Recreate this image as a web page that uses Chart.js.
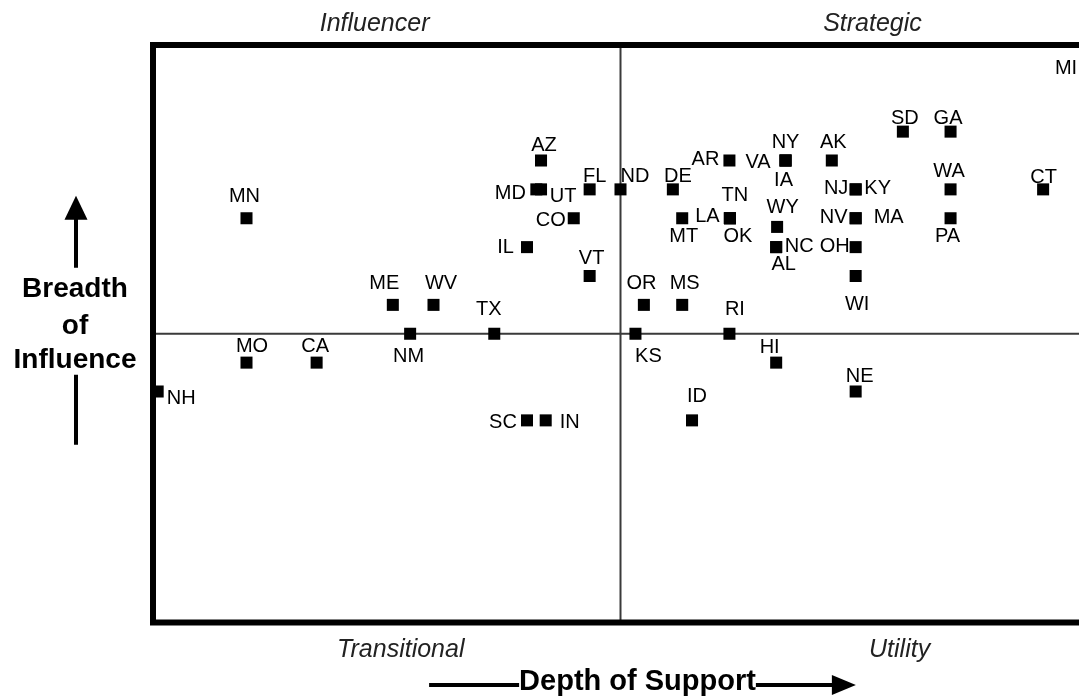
<!DOCTYPE html>
<html>
<head>
<meta charset="utf-8">
<script src="https://cdn.jsdelivr.net/npm/chart.js@4/dist/chart.umd.min.js"></script>
<style>
  html, body { margin: 0; padding: 0; background: #fff; overflow: hidden; }
  #wrap { width: 1100px; height: 696px; }
</style>
</head>
<body>
<div id="wrap"><canvas id="quad" width="1100" height="696"></canvas></div>
<script>
const states  = ['NH', 'MN', 'MO', 'CA', 'ME', 'NM', 'WV', 'TX', 'IL', 'SC', 'MD', 'AZ', 'UT', 'IN', 'CO', 'FL', 'VT',
                 'ND', 'KS', 'OR', 'DE', 'MT', 'MS', 'ID', 'AR', 'TN', 'LA', 'OK', 'RI', 'WY', 'NC', 'AL', 'HI',
                 'NY', 'VA', 'IA', 'AK', 'NJ', 'KY', 'NV', 'MA', 'OH', 'WI', 'NE', 'SD', 'GA', 'WA', 'PA', 'CT', 'MI'];
const depth   = [-9.9, -8, -8, -6.5, -4.87, -4.5, -4, -2.7, -2, -2, -1.8, -1.7, -1.7, -1.6, -1, -0.66, -0.66,
                 0, 0.32, 0.5, 1.12, 1.32, 1.32, 1.53, 2.33, 2.34, 2.34, 2.34, 2.33, 3.35, 3.33, 3.33, 3.33,
                 3.53, 3.53, 3.53, 4.52, 5.03, 5.03, 5.03, 5.03, 5.03, 5.03, 5.03, 6.04, 7.06, 7.06, 7.06, 9.04, 10];
const breadth = [-2, 4, -1, -1, 1, 0, 1, 0, 3, -3, 5, 6, 5, -3, 4, 5, 2,
                 5, 0, 1, 5, 4, 1, -3, 6, 4, 4, 4, 0, 3.7, 3, 3, -1,
                 6, 6, 6, 6, 5, 5, 4, 4, 3, 2, -2, 7, 7, 5, 4, 5, 9.2];

const quadrants = ['Influencer', 'Strategic', 'Transitional', 'Utility'];
const xTitle = 'Depth of Support';
const yTitle = ['Breadth', 'of', 'Influence'];

// label placement next to each square, in px (dx, dy of the text centre)
const labelOffset = {
  NH: [23.5, 5], MN: [-2, -24], MO: [5.5, -18], CA: [-1.5, -18], ME: [-8.5, -23], NM: [-1.5, 21],
  WV: [7.5, -23], TX: [-5.5, -26.5], IL: [-21.5, -1], SC: [-24, 0], MD: [-26, 2], AZ: [3, -16.5],
  UT: [22, 5], IN: [24, 0], CO: [-23, 0], FL: [5, -14.5], VT: [2, -19], ND: [14.5, -14.5],
  KS: [13, 21], OR: [-2.5, -23.5], DE: [5, -14.5], MT: [1.5, 16.5], MS: [2.5, -23.5], ID: [5, -25.5],
  AR: [-24, -3], TN: [5, -24.5], LA: [-22.5, -4], OK: [8, 16.5], RI: [5.5, -26.5], WY: [5.5, -21],
  NC: [23, -2], AL: [7.5, 15.5], HI: [-6.5, -17], NY: [0, -20], VA: [-27.5, 0], IA: [-2, 18.5],
  AK: [1.5, -20], NJ: [-19.5, -3], KY: [22, -3], NV: [-22, -2.5], MA: [33, -2.5], OH: [-21, -2],
  WI: [1.5, 26.5], NE: [4, -17], SD: [2, -15], GA: [-2.5, -15], WA: [-1.5, -19.5], PA: [-3, 16.5],
  CT: [0.5, -14], MI: [-22, -1]
};
// quadrant captions: x value of the caption centre, above or below the box
const quadrantAt = [[-5.26, 'top'], [5.39, 'top'], [-4.7, 'bottom'], [5.97, 'bottom']];

const FONT = '"Liberation Sans", Arial, sans-serif';

const quadPlugin = {
  id: 'quad',
  beforeDatasetsDraw(chart) {
    const { ctx, chartArea: a, scales: { x, y } } = chart;
    const cx = x.getPixelForValue(0), cy = y.getPixelForValue(0);
    ctx.save();
    ctx.strokeStyle = '#3a3a3a';
    ctx.lineWidth = 2;
    ctx.beginPath();
    ctx.moveTo(cx, a.top); ctx.lineTo(cx, a.bottom);
    ctx.moveTo(a.left, cy); ctx.lineTo(a.right, cy);
    ctx.stroke();
    ctx.restore();
  },
  afterDatasetsDraw(chart) {
    const { ctx, chartArea: a, scales: { x, y } } = chart;
    const cx = x.getPixelForValue(0), cy = y.getPixelForValue(0);
    ctx.save();

    // heavy frame
    ctx.strokeStyle = '#000';
    ctx.lineWidth = 6;
    ctx.strokeRect(a.left, a.top, a.right - a.left, a.bottom - a.top);

    // state labels
    ctx.fillStyle = '#000';
    ctx.font = '20px ' + FONT;
    ctx.textAlign = 'center';
    ctx.textBaseline = 'alphabetic';
    const meta = chart.getDatasetMeta(0);
    meta.data.forEach((pt, i) => {
      const off = labelOffset[states[i]] || [0, -20];
      ctx.fillText(states[i], pt.x + off[0], pt.y + off[1] + 7.3);
    });

    // quadrant captions
    ctx.fillStyle = '#222';
    ctx.font = 'italic 25px ' + FONT;
    quadrants.forEach((q, i) => {
      const [v, side] = quadrantAt[i];
      const ty = side === 'top' ? a.top - 14 : a.bottom + 34.5;
      ctx.fillText(q, x.getPixelForValue(v), ty);
    });

    // y title with arrows
    ctx.fillStyle = '#000';
    ctx.strokeStyle = '#000';
    ctx.font = 'bold 28px ' + FONT;
    const tx = a.left - 78;
    ctx.fillText(yTitle[0], tx, cy - 37);
    ctx.fillText(yTitle[1], tx, cy + 0.5);
    ctx.fillText(yTitle[2], tx, cy + 34.5);
    ctx.lineWidth = 4;
    ctx.beginPath();
    ctx.moveTo(tx + 1, cy - 116); ctx.lineTo(tx + 1, cy - 66);
    ctx.moveTo(tx + 1, cy + 41); ctx.lineTo(tx + 1, cy + 111);
    ctx.stroke();
    ctx.beginPath();
    ctx.moveTo(tx + 1, cy - 138);
    ctx.lineTo(tx + 12.5, cy - 114);
    ctx.lineTo(tx - 10.5, cy - 114);
    ctx.closePath();
    ctx.fill();

    // x title with arrow
    ctx.font = 'bold 29px ' + FONT;
    const xc = cx + 17, base = a.bottom + 67.5, ly = a.bottom + 62.5;
    const w = ctx.measureText(xTitle).width;
    ctx.fillText(xTitle, xc, base);
    const s = xc - w / 2, e = xc + w / 2;
    ctx.beginPath();
    ctx.moveTo(s - 90, ly); ctx.lineTo(s, ly);
    ctx.moveTo(e, ly); ctx.lineTo(e + 78, ly);
    ctx.stroke();
    ctx.beginPath();
    ctx.moveTo(e + 100, ly);
    ctx.lineTo(e + 76, ly - 10);
    ctx.lineTo(e + 76, ly + 10);
    ctx.closePath();
    ctx.fill();

    ctx.restore();
  }
};

new Chart(document.getElementById('quad'), {
  type: 'scatter',
  data: {
    datasets: [{
      data: states.map((s, i) => ({ x: depth[i], y: breadth[i] })),
      pointStyle: 'rect',
      pointRadius: 8.5,
      pointBorderWidth: 0,
      backgroundColor: '#000',
      borderColor: '#000',
      clip: false
    }]
  },
  options: {
    responsive: false,
    animation: false,
    events: [],
    layout: { padding: { left: 153, right: 12, top: 45, bottom: 73.5 } },
    scales: {
      x: { min: -10, max: 10, display: false },
      y: { min: -10, max: 10, display: false }
    },
    plugins: { legend: { display: false }, tooltip: { enabled: false } }
  },
  plugins: [quadPlugin]
});
</script>
</body>
</html>
